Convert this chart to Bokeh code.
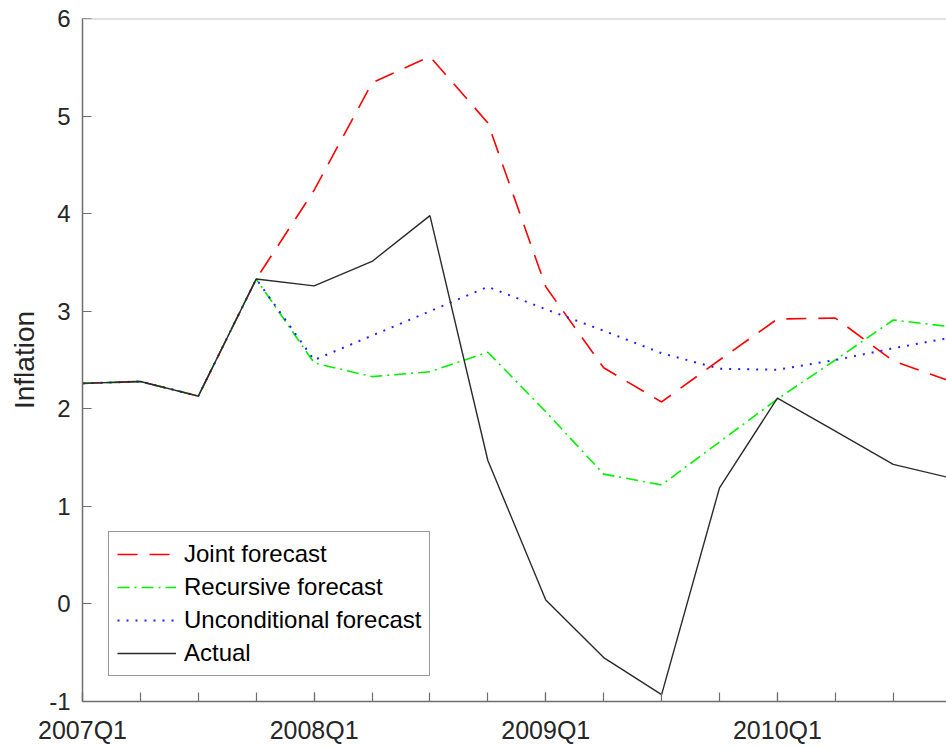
from bokeh.plotting import figure
from bokeh.models import FixedTicker, Span, Legend, LegendItem
from bokeh.embed import file_html
from bokeh.resources import INLINE

# quarters: 0 = 2007Q1 ... 15 = 2010Q4
quarters = list(range(16))
tick_positions = [0, 4, 8, 12]
tick_labels = ["2007Q1", "2008Q1", "2009Q1", "2010Q1"]
y_ticks = [-1, 0, 1, 2, 3, 4, 5, 6]
y_tick_labels = ["-1", "0", "1", "2", "3", "4", "5", "6"]

actual = [2.26, 2.28, 2.13, 3.33, 3.26, 3.51, 3.98, 1.47, 0.04, -0.55, -0.93, 1.19, 2.11, 1.77, 1.43, 1.29]
joint = [2.26, 2.28, 2.13, 3.33, 4.24, 5.34, 5.61, 4.93, 3.25, 2.42, 2.07, 2.50, 2.92, 2.93, 2.49, 2.28]
recursive = [2.26, 2.28, 2.13, 3.33, 2.47, 2.33, 2.38, 2.58, 1.97, 1.33, 1.22, 1.66, 2.10, 2.50, 2.91, 2.84]
unconditional = [2.26, 2.28, 2.13, 3.33, 2.50, 2.75, 3.00, 3.25, 3.02, 2.80, 2.57, 2.41, 2.40, 2.50, 2.62, 2.73]

FONT = "Liberation Sans"

p = figure(width=946, height=746, x_range=(0, 14.92), y_range=(-1, 6),
           output_backend="svg", toolbar_location=None,
           min_border_left=82, min_border_right=0, min_border_top=18, min_border_bottom=44)

p.xgrid.grid_line_color = None
p.ygrid.grid_line_color = None
p.outline_line_color = None
p.background_fill_color = "white"
p.border_fill_color = "white"

axis_col = "#6e6e6e"
for ax in (p.xaxis[0], p.yaxis[0]):
    ax.axis_line_color = axis_col
    ax.axis_line_width = 1.5
    ax.major_tick_line_color = axis_col
    ax.major_tick_line_width = 1.2
    ax.major_tick_in = 9
    ax.major_tick_out = 0
    ax.major_label_text_font = FONT
    ax.major_label_text_color = "#262626"

p.xaxis.ticker = FixedTicker(ticks=tick_positions, minor_ticks=quarters)
p.xaxis.major_label_overrides = dict(zip(tick_positions, tick_labels))
p.xaxis.major_label_text_font_size = "25px"
p.xaxis.minor_tick_line_color = axis_col
p.xaxis.minor_tick_line_width = 1.2
p.xaxis.minor_tick_in = 9
p.xaxis.minor_tick_out = 0
p.xaxis.major_label_standoff = 14

p.yaxis.ticker = FixedTicker(ticks=y_ticks)
p.yaxis.major_label_overrides = dict(zip(y_ticks, y_tick_labels))
p.yaxis.major_label_text_font_size = "24px"
p.yaxis.minor_tick_line_color = None
p.yaxis.major_label_standoff = 12
p.yaxis.axis_label = "Inflation"
p.yaxis.axis_label_text_font = FONT
p.yaxis.axis_label_text_font_size = "28px"
p.yaxis.axis_label_text_font_style = "normal"
p.yaxis.axis_label_text_color = "#262626"
p.yaxis.axis_label_standoff = 6

p.add_layout(Span(location=6, dimension="width", line_color="#c4c4c4", line_width=2))

r_joint = p.line(quarters, joint, line_color="#ff0000", line_width=1.6, line_dash="20 12")
r_rec = p.line(quarters, recursive, line_color="#00f000", line_width=1.6, line_dash="12 5 2 5")
r_unc = p.line(quarters, unconditional, line_color="#2020ff", line_width=2, line_dash="2 7")
r_act = p.line(quarters, actual, line_color="#2a2a2a", line_width=1.4)

legend = Legend(items=[
    LegendItem(label="Joint forecast", renderers=[r_joint]),
    LegendItem(label="Recursive forecast", renderers=[r_rec]),
    LegendItem(label="Unconditional forecast", renderers=[r_unc]),
    LegendItem(label="Actual", renderers=[r_act]),
], location=(26, 25))
legend.margin = 0
legend.padding = 8
legend.spacing = 5
legend.glyph_width = 59
legend.glyph_height = 24
legend.label_height = 24
legend.label_standoff = 8
legend.label_text_font = FONT
legend.label_text_font_size = "24px"
legend.label_text_color = "black"
legend.border_line_color = "#333333"
legend.border_line_width = 1
legend.background_fill_color = "white"
legend.background_fill_alpha = 1
p.add_layout(legend)

open("out.html", "w").write(file_html(p, INLINE))
